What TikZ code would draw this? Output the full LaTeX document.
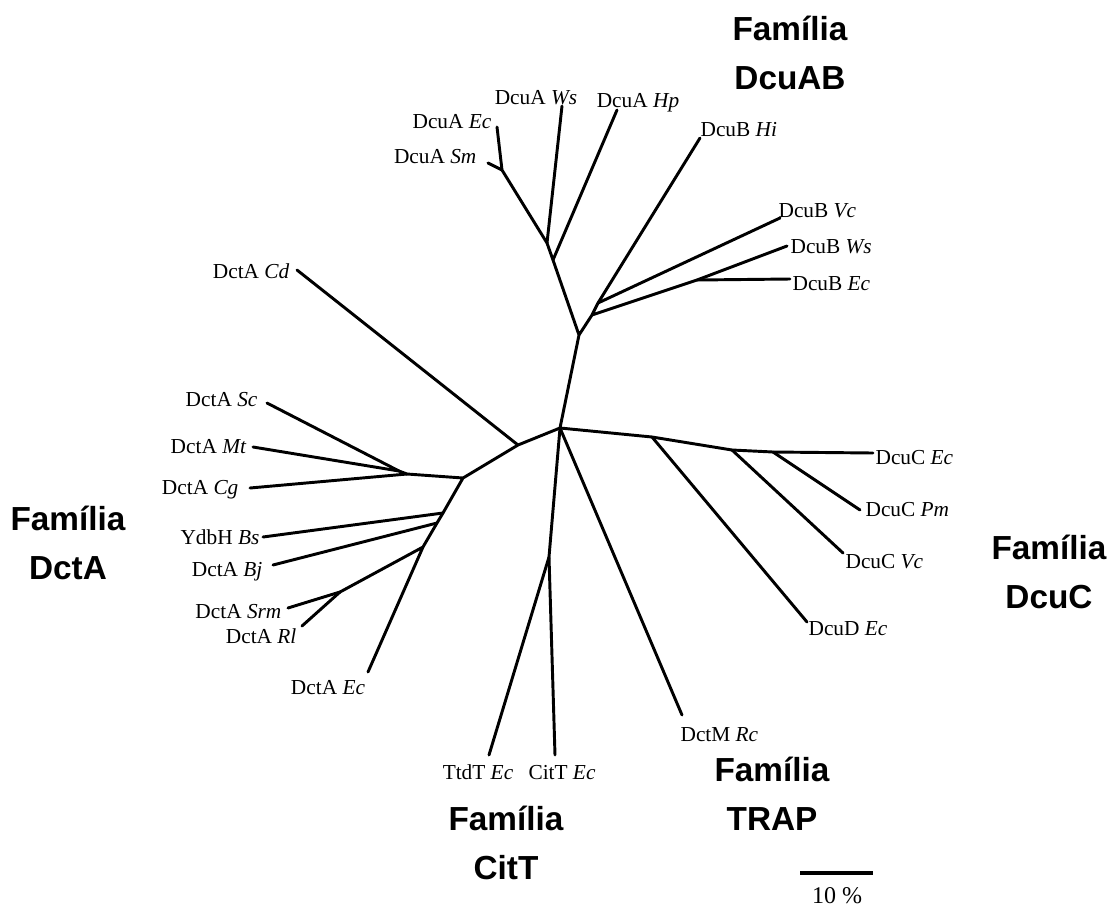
\documentclass[tikz,border=0pt]{standalone}
\usepackage{fontspec}
\setmainfont{Liberation Serif}
\setsansfont{Liberation Sans}
\usetikzlibrary{positioning}
\tikzset{branch/.style={line width=2.2pt, line cap=round, line join=round}, % the edges of the tree
leaf/.style={font=\fontsize{16}{18}\selectfont, inner sep=1pt, text height=12pt, text depth=2pt}, % protein names at the tips
family/.style={font=\sffamily\bfseries\fontsize{25}{37}\selectfont, align=center}, % the family captions
}

\begin{document}
\begin{tikzpicture}[x=0.75pt, y=-0.75pt]
    \useasboundingbox (0,0) rectangle (1111,908);
    % inner nodes
    \coordinate (c) at (560,428);
    \coordinate (u) at (579,335);
    \coordinate (a1) at (553,260);
    \coordinate (a2) at (547,243);
    \coordinate (a3) at (502,170);
    \coordinate (b1) at (592,315);
    \coordinate (b2) at (598,303);
    \coordinate (bw) at (697,280);
    \coordinate (l1) at (518,445);
    \coordinate (l2) at (463,478);
    \coordinate (l3) at (407,474);
    \coordinate (l4) at (399,471);
    \coordinate (j1) at (443,513);
    \coordinate (j2) at (437,523);
    \coordinate (j3) at (423,547);
    \coordinate (j4) at (340,592);
    \coordinate (r1) at (652,437);
    \coordinate (r2) at (732,450);
    \coordinate (r3) at (773,452);
    \coordinate (t1) at (549,557);
    % tips
    \coordinate (tAEc) at (497,127);
    \coordinate (tASm) at (488,163);
    \coordinate (tAWs) at (562,106);
    \coordinate (tAHp) at (617,110);
    \coordinate (tBHi) at (700,138);
    \coordinate (tBVc) at (780,218);
    \coordinate (tBWs) at (787,246);
    \coordinate (tBEc) at (790,279);
    \coordinate (tCd) at (297,270);
    \coordinate (tSc) at (267,403);
    \coordinate (tMt) at (253,447);
    \coordinate (tCg) at (250,488);
    \coordinate (tBs) at (263,537);
    \coordinate (tBj) at (273,565);
    \coordinate (tSrm) at (288,608);
    \coordinate (tRl) at (302,626);
    \coordinate (tEc) at (368,672);
    \coordinate (tCEc) at (873,453);
    \coordinate (tCPm) at (860,510);
    \coordinate (tCVc) at (843,553);
    \coordinate (tDEc) at (807,622);
    \coordinate (tMRc) at (682,715);
    \coordinate (tCit) at (555,755);
    \coordinate (tTtd) at (489,755);

    % labels
    \node[leaf, anchor=east] (lAEc) at (493,122) {DcuA \textit{Ec}};
    \node[leaf, anchor=east] (lASm) at (478,157) {DcuA \textit{Sm}};
    \node[leaf] (lAWs) at (536,98) {DcuA \textit{Ws}};
    \node[leaf] (lAHp) at (638,101) {DcuA \textit{Hp}};
    \node[leaf, anchor=west] (lBHi) at (699,130) {DcuB \textit{Hi}};
    \node[leaf, anchor=west] (lBVc) at (777,211) {DcuB \textit{Vc}};
    \node[leaf, anchor=west] (lBWs) at (789,247) {DcuB \textit{Ws}};
    \node[leaf, anchor=west] (lBEc) at (791,284) {DcuB \textit{Ec}};
    \node[leaf, anchor=east] (lCd) at (291,272) {DctA \textit{Cd}};
    \node[leaf, anchor=east] (lSc) at (259,400) {DctA \textit{Sc}};
    \node[leaf, anchor=east] (lMt) at (248,447) {DctA \textit{Mt}};
    \node[leaf, anchor=east] (lCg) at (240,488) {DctA \textit{Cg}};
    \node[leaf, anchor=east] (lBs) at (261,538) {YdbH \textit{Bs}};
    \node[leaf, anchor=east] (lBj) at (264,570) {DctA \textit{Bj}};
    \node[leaf, anchor=east] (lSrm) at (283,612) {DctA \textit{Srm}};
    \node[leaf, anchor=east] (lRl) at (298,637) {DctA \textit{Rl}};
    \node[leaf] (lEc) at (328,688) {DctA \textit{Ec}};
    \node[leaf, anchor=west] (lCEc) at (874,458) {DcuC \textit{Ec}};
    \node[leaf, anchor=west] (lCPm) at (864,510) {DcuC \textit{Pm}};
    \node[leaf, anchor=west] (lCVc) at (844,562) {DcuC \textit{Vc}};
    \node[leaf, anchor=west] (lDEc) at (807,629) {DcuD \textit{Ec}};
    \node[leaf, anchor=west] (lMRc) at (679,735) {DctM \textit{Rc}};
    \node[leaf] (lTtd) at (478,773) {TtdT \textit{Ec}};
    \node[leaf] (lCit) at (562,773) {CitT \textit{Ec}};

    % families
    \node[family] (fDcuAB) at (790,53) {Família\\DcuAB};
    \node[family] (fDctA) at (68,543) {Família\\DctA};
    \node[family] (fDcuC) at (1049,572) {Família\\DcuC};
    \node[family] (fTRAP) at (772,794) {Família\\TRAP};
    \node[family] (fCitT) at (506,843) {Família\\CitT};

    % the tree
    \draw[branch] (c) -- (u) -- (a1) -- (a2) -- (a3) -- (tAEc)
    (a3) edge (tASm) (a2) edge (tAWs) (a1) edge (tAHp)
    (u) -- (b1) -- (b2) -- (tBHi) (b2) edge (tBVc)
    (b1) -- (bw) -- (tBWs) (bw) edge (tBEc);
    \draw[branch] (c) -- (l1) -- (l2) -- (l3) -- (l4) -- (tSc)
    (l1) edge (tCd) (l4) edge (tMt) (l3) edge (tCg)
    (l2) -- (j1) -- (j2) -- (j3) -- (tEc)
    (j1) edge (tBs) (j2) edge (tBj)
    (j3) -- (j4) -- (tSrm) (j4) edge (tRl);
    \draw[branch] (c) -- (r1) -- (r2) -- (r3) -- (tCEc)
    (r3) edge (tCPm) (r2) edge (tCVc) (r1) edge (tDEc);
    \draw[branch] (c) -- (t1) -- (tCit) (t1) edge (tTtd)
    (c) edge (tMRc);

    % scale bar
    \coordinate (sb1) at (800,873);
    \coordinate (sb2) at (873,873);
    \draw[line width=3.4pt] (sb1) -- (sb2);
    \node[leaf, font=\fontsize{18}{20}\selectfont] (lScale) at (837,897) {10 \%};
\end{tikzpicture}
\end{document}
